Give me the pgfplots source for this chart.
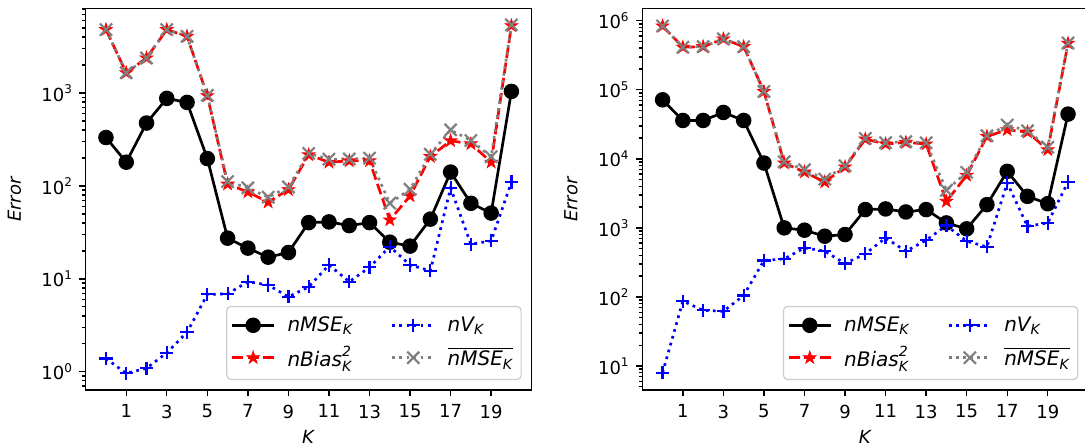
\documentclass[border=0pt]{standalone}
\usepackage{fontspec}
\setmainfont{DejaVu Sans}
\usepackage{amsmath}
\usepackage{pgfplots}
\usepackage{pgfplotstable}
\pgfplotsset{compat=1.18}

\pgfdeclareplotmark{fstar}{%
 \pgfpathmoveto{\pgfpointpolar{90}{\pgfplotmarksize}}%
 \pgfpathlineto{\pgfpointpolar{126}{0.382\pgfplotmarksize}}%
 \pgfpathlineto{\pgfpointpolar{162}{\pgfplotmarksize}}%
 \pgfpathlineto{\pgfpointpolar{198}{0.382\pgfplotmarksize}}%
 \pgfpathlineto{\pgfpointpolar{234}{\pgfplotmarksize}}%
 \pgfpathlineto{\pgfpointpolar{270}{0.382\pgfplotmarksize}}%
 \pgfpathlineto{\pgfpointpolar{306}{\pgfplotmarksize}}%
 \pgfpathlineto{\pgfpointpolar{342}{0.382\pgfplotmarksize}}%
 \pgfpathlineto{\pgfpointpolar{18}{\pgfplotmarksize}}%
 \pgfpathlineto{\pgfpointpolar{54}{0.382\pgfplotmarksize}}%
 \pgfpathclose\pgfusepathqfillstroke}

\pgfplotstableread{
k mse bias v bar
0 332 4810 1.39 4811
1 180 1650 0.96 1651
2 475 2380 1.09 2381
3 875 4810 1.60 4812
4 792 4075 2.66 4078
5 197 935 6.8 942
6 27.4 104.5 6.9 111.4
7 21.4 86 9.3 95.3
8 17.1 67 8.6 75.6
9 19.2 91 6.4 97.4
10 40.3 216 8.2 224
11 41 180 14.1 194
12 37.4 186 9.3 195
13 40.3 186 13.3 199
14 24.8 43 22.2 65.2
15 22.5 78 14.1 92
16 43.9 207 12.2 219
17 141 306 95 401
18 65 284 23.6 308
19 51 180 25.6 206
20 1040 5300 110 5410
}\lefttab

\pgfplotstableread{
k mse bias v bar
0 71500 838000 8.0 838008
1 35900 413000 87 413087
2 35900 421000 64 421064
3 46900 544000 62 544062
4 35900 421000 105 421105
5 8690 94200 337 94537
6 1000 8690 356 9046
7 925 6440 514 6954
8 757 4620 459 5079
9 800 7620 305 7925
10 1840 19300 421 19721
11 1880 16400 716 17116
12 1700 17300 459 17759
13 1840 16400 662 17062
14 1180 2420 1080 3500
15 968 5750 641 6391
16 2170 21100 531 21631
17 6580 26300 4470 30770
18 2860 24400 1055 25455
19 2240 13500 1180 14680
20 44400 471000 4630 475630
}\righttab

\pgfplotsset{
 msestyle/.style={black, line width=1.35pt, solid, mark=*, mark size=3.2pt, mark options={solid, fill=black, draw=black}},
 biasstyle/.style={red, line width=1.35pt, dash pattern=on 5.5pt off 2.2pt, mark=fstar, mark size=3.3pt, mark options={solid, fill=red, line width=0.4pt}},
 vstyle/.style={blue, line width=1.35pt, dash pattern=on 1.35pt off 2.2pt, mark=+, mark size=3.3pt, mark options={solid, line width=1.1pt}},
 barstyle/.style={gray, line width=1.35pt, dash pattern=on 1.35pt off 2.2pt, mark=x, mark size=4.3pt, mark options={solid, line width=1.1pt}},
 myax/.style={
  scale only axis, width=223pt, height=190.85pt, anchor=south west,
  xmin=-1, xmax=21,
  xtick={1,3,...,19},
  tick align=outside, xtick pos=bottom, ytick pos=left,
  axis line style={line width=0.75pt},
  major tick length=3.15pt, minor tick length=1.8pt,
  every tick/.style={black, line width=0.7pt},
  xticklabel style={yshift=-1pt},
  xlabel={\textit{K}}, ylabel={\textit{Error}},
  every axis x label/.style={at={(axis description cs:0.5,-0.123)}, anchor=center},
  every axis y label/.style={at={(axis description cs:-0.16,0.5)}, anchor=center, rotate=90},
  legend columns=2,
  legend cell align=left,
  legend image code/.code={\draw[mark repeat=2,mark phase=2,##1] plot coordinates {(0pt,0pt) (10.5pt,0pt) (21pt,0pt)};},
  legend style={at={(axis description cs:0.9776,0.0262)}, anchor=south east,
    draw=black!20, line width=0.6pt, rounded corners=2pt, fill=white,
    font=\fontsize{10}{12}\selectfont,
    inner xsep=2pt, inner ysep=3pt, row sep=2pt,
    /tikz/every odd column/.append style={column sep=4pt},
    /tikz/every even column/.append style={column sep=17pt}},
 },
}

\newcommand{\legs}{%
 \addlegendimage{msestyle}
 \addlegendentry{$\text{\itshape nMSE}_{\text{\itshape K}}$}
 \addlegendimage{vstyle}
 \addlegendentry{$\text{\itshape nV}_{\text{\itshape K}}$}
 \addlegendimage{biasstyle}
 \addlegendentry{$\text{\itshape nBias}^{\text{\itshape 2}}_{\text{\itshape K}}$}
 \addlegendimage{barstyle}
 \addlegendentry{$\overline{\text{\itshape nMSE}_{\text{\itshape K}}}$}
}

\begin{document}
\fontsize{9}{11}\selectfont
\begin{tikzpicture}
\begin{axis}[myax, ymode=log, at={(42.85pt,27.5pt)},
  /pgf/number format/assume math mode=true,
  ymin=0.636, ymax=8160,
  ytick={1,10,100,1000},
  yticklabels={10\textsuperscript{0},10\textsuperscript{1},10\textsuperscript{2},10\textsuperscript{3}},
  minor ytick={0.7,0.8,0.9,2,3,4,5,6,7,8,9,20,30,40,50,60,70,80,90,200,300,400,500,600,700,800,900,2000,3000,4000,5000,6000,7000,8000}]
\legs
\addplot[msestyle, forget plot] table[x=k,y=mse]{\lefttab};
\addplot[biasstyle, forget plot] table[x=k,y=bias]{\lefttab};
\addplot[vstyle, forget plot] table[x=k,y=v]{\lefttab};
\addplot[barstyle, forget plot] table[x=k,y=bar]{\lefttab};
\end{axis}
\begin{axis}[myax, ymode=log, at={(321.15pt,27.5pt)},
  /pgf/number format/assume math mode=true,
  ymin=4.49, ymax=1.512e6,
  ytick={10,100,1000,1e4,1e5,1e6},
  yticklabels={10\textsuperscript{1},10\textsuperscript{2},10\textsuperscript{3},10\textsuperscript{4},10\textsuperscript{5},10\textsuperscript{6}},
  minor ytick={5,6,7,8,9,20,30,40,50,60,70,80,90,200,300,400,500,600,700,800,900,2000,3000,4000,5000,6000,7000,8000,9000,2e4,3e4,4e4,5e4,6e4,7e4,8e4,9e4,2e5,3e5,4e5,5e5,6e5,7e5,8e5,9e5}]
\legs
\addplot[msestyle, forget plot] table[x=k,y=mse]{\righttab};
\addplot[biasstyle, forget plot] table[x=k,y=bias]{\righttab};
\addplot[vstyle, forget plot] table[x=k,y=v]{\righttab};
\addplot[barstyle, forget plot] table[x=k,y=bar]{\righttab};
\end{axis}
\pgfresetboundingbox
\useasboundingbox (0,0) rectangle (542.5pt,222.5pt);
\end{tikzpicture}
\end{document}
